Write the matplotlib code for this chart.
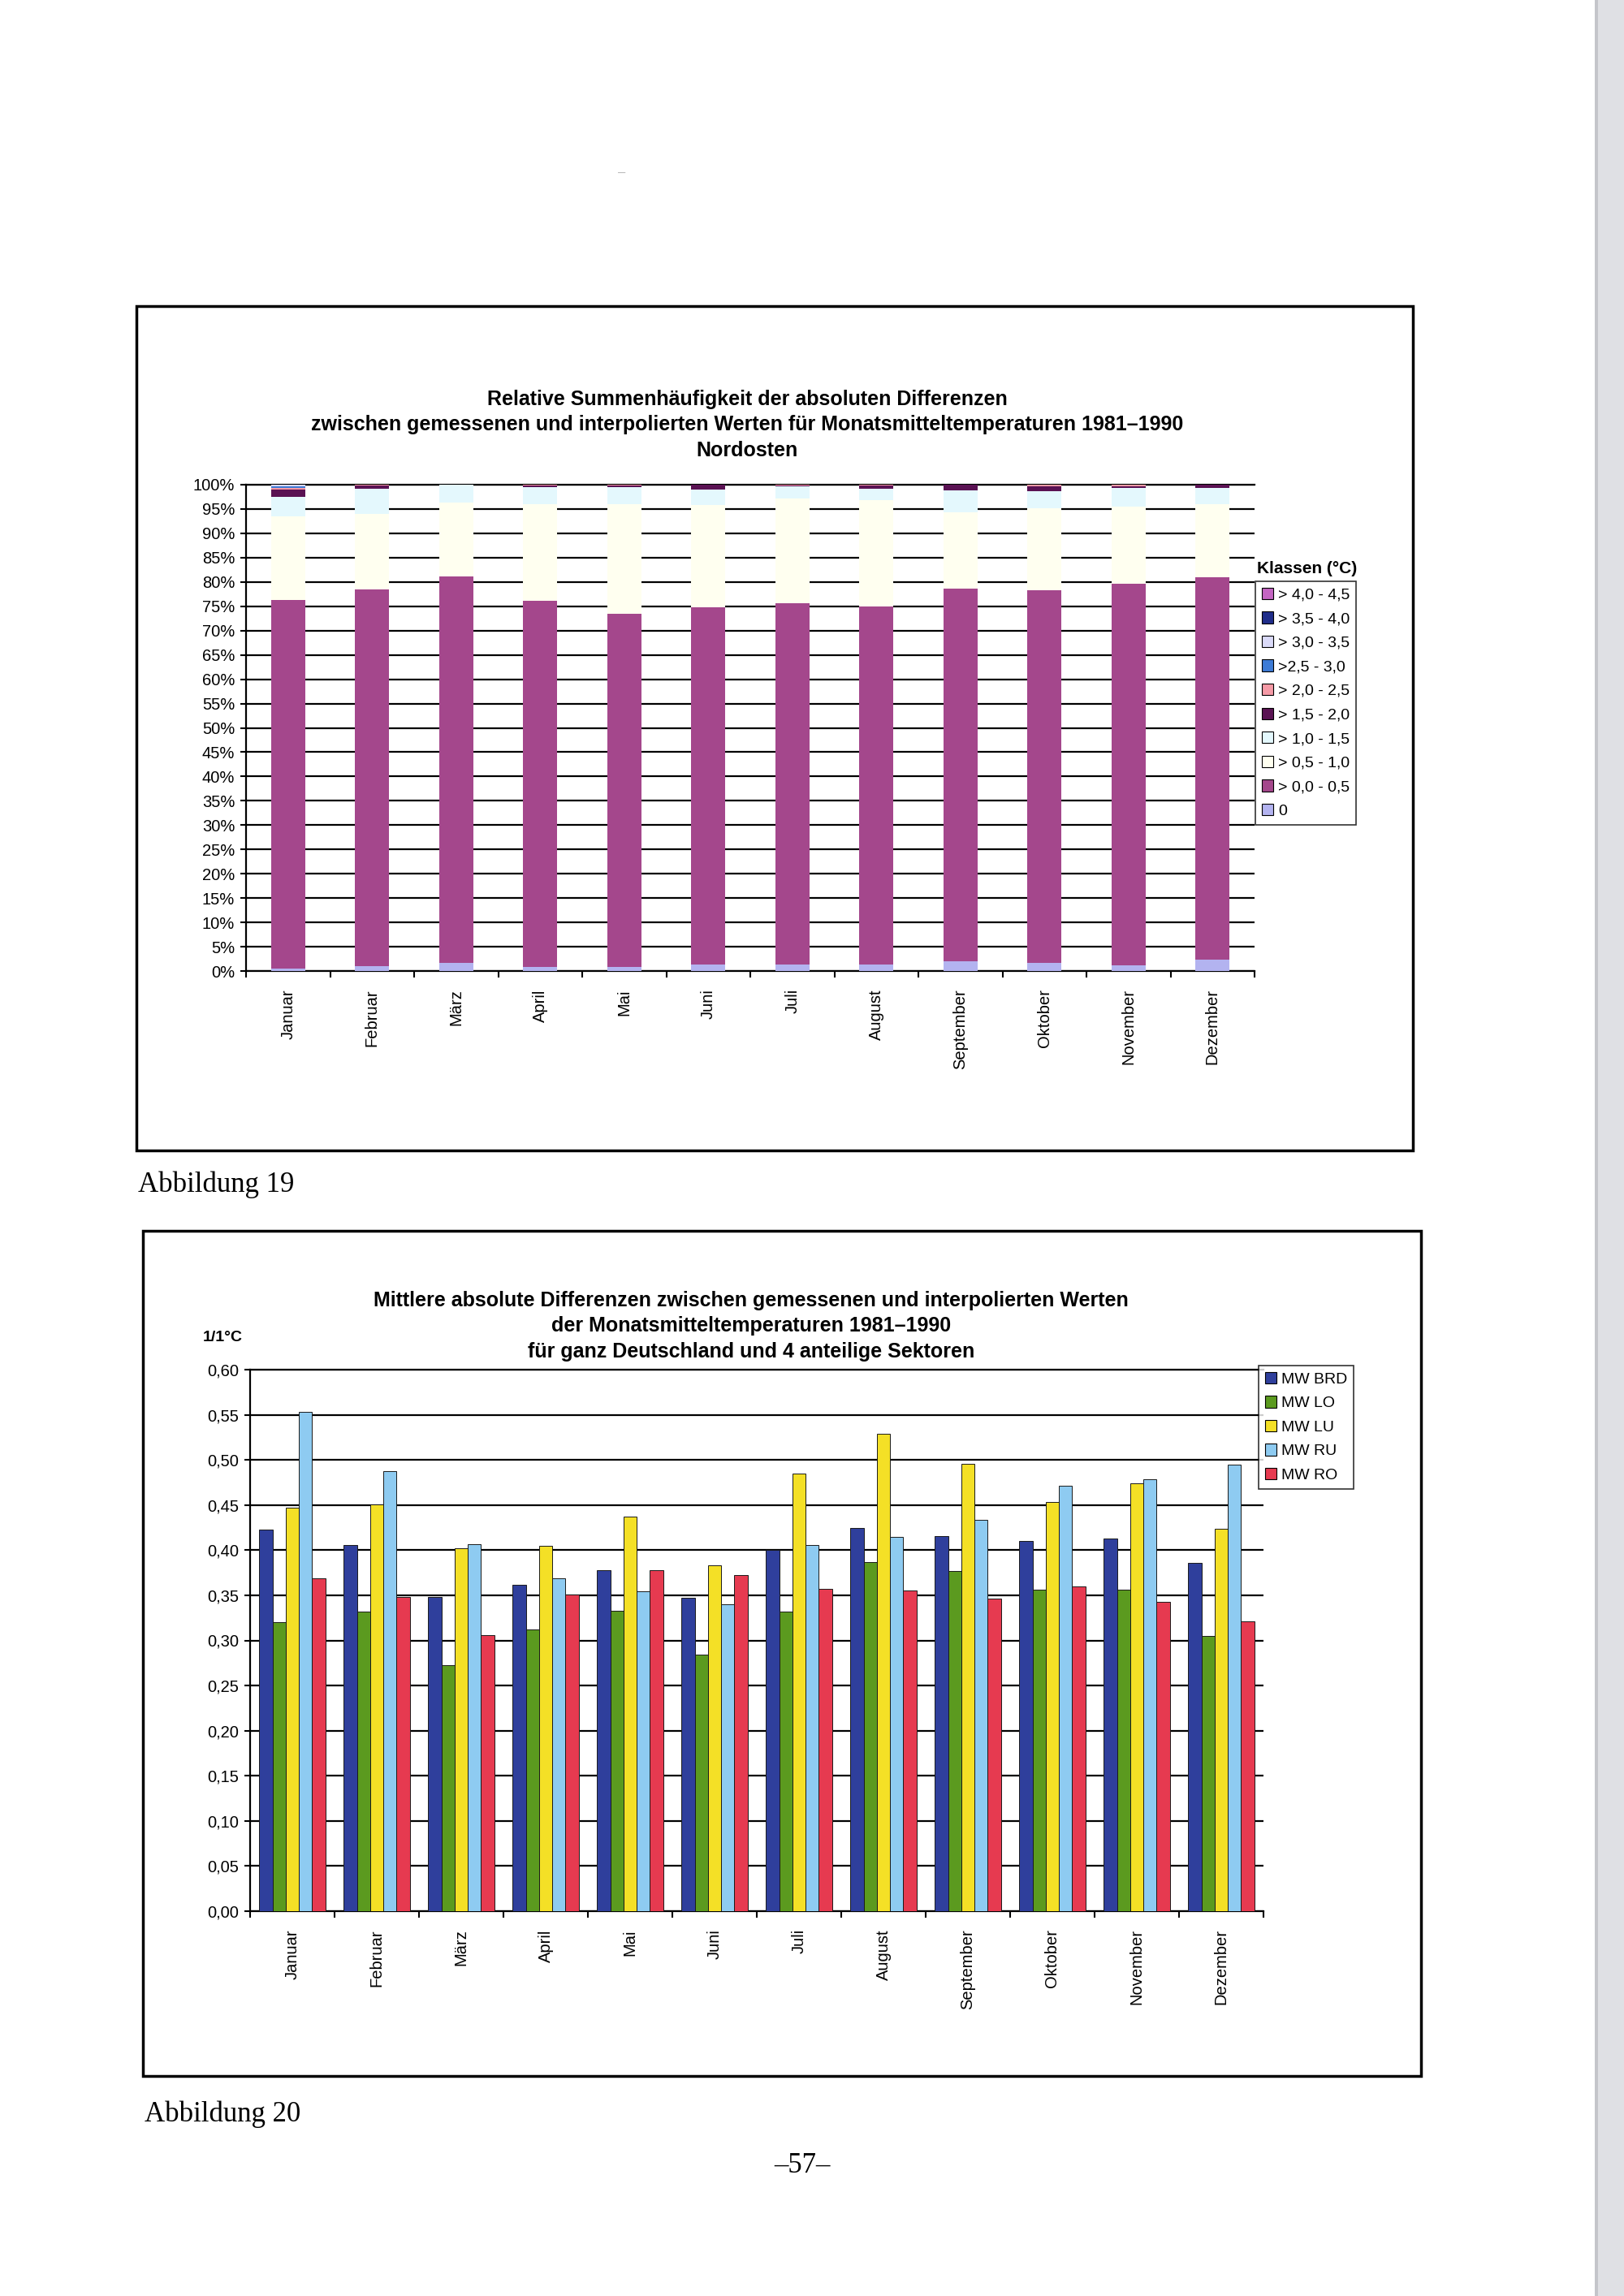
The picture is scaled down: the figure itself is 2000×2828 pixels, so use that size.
import matplotlib
matplotlib.use('Agg')
import numpy as np
import matplotlib.pyplot as plt
from matplotlib.patches import Rectangle, Patch

W, H = 2000, 2828
SANS = ['Liberation Sans', 'DejaVu Sans']
SERIF = ['Liberation Serif', 'DejaVu Serif']
plt.rcParams['font.family'] = SANS

monate = ['Januar', 'Februar', 'März', 'April', 'Mai', 'Juni', 'Juli',
          'August', 'September', 'Oktober', 'November', 'Dezember']

# Abbildung 19 - Anteile je Klasse in %, von unten nach oben gestapelt
klassen = ['0', '> 0,0 - 0,5', '> 0,5 - 1,0', '> 1,0 - 1,5', '> 1,5 - 2,0',
           '> 2,0 - 2,5', '>2,5 - 3,0', '> 3,0 - 3,5', '> 3,5 - 4,0', '> 4,0 - 4,5']
k_0       = [0.5, 1.0, 1.6, 0.8, 0.8, 1.3, 1.3, 1.4, 2.0, 1.6, 1.2, 2.3]
k_00_05   = [75.8, 77.5, 79.5, 75.4, 72.6, 73.5, 74.3, 73.5, 76.6, 76.7, 78.5, 78.7]
k_05_10   = [17.2, 15.5, 15.3, 19.8, 22.6, 21.0, 21.6, 21.9, 15.8, 16.8, 15.8, 15.0]
k_10_15   = [4.0, 5.1, 3.6, 3.5, 3.5, 3.2, 2.4, 2.4, 4.5, 3.6, 3.8, 3.4]
k_15_20   = [1.5, 0.7, 0.0, 0.4, 0.3, 1.0, 0.2, 0.6, 1.1, 1.0, 0.4, 0.6]
k_20_25   = [0.3, 0.2, 0.0, 0.1, 0.2, 0.0, 0.2, 0.2, 0.0, 0.3, 0.3, 0.0]
k_25_30   = [0.4, 0, 0, 0, 0, 0, 0, 0, 0, 0, 0, 0]
k_30_35   = [0.3, 0, 0, 0, 0, 0, 0, 0, 0, 0, 0, 0]
k_35_40   = [0, 0, 0, 0, 0, 0, 0, 0, 0, 0, 0, 0]
k_40_45   = [0, 0, 0, 0, 0, 0, 0, 0, 0, 0, 0, 0]
klassen_farben = ['#b3b3f0', '#a4478c', '#fffff0', '#e4f8fd', '#5a1253',
                  '#f59aa6', '#3d7bd6', '#dadaf8', '#1f2d8a', '#c465c2']

# Abbildung 20 - mittlere absolute Differenzen
serien = ['MW BRD', 'MW LO', 'MW LU', 'MW RU', 'MW RO']
mw_brd = [0.423, 0.406, 0.348, 0.362, 0.378, 0.347, 0.400, 0.425, 0.416, 0.410, 0.413, 0.386]
mw_lo  = [0.320, 0.332, 0.273, 0.312, 0.333, 0.284, 0.332, 0.387, 0.377, 0.356, 0.356, 0.305]
mw_lu  = [0.447, 0.451, 0.402, 0.405, 0.437, 0.383, 0.485, 0.529, 0.496, 0.453, 0.474, 0.424]
mw_ru  = [0.553, 0.488, 0.407, 0.369, 0.354, 0.340, 0.406, 0.415, 0.434, 0.471, 0.479, 0.495]
mw_ro  = [0.369, 0.348, 0.306, 0.351, 0.378, 0.372, 0.357, 0.355, 0.346, 0.360, 0.343, 0.321]
serien_farben = ['#2f3f9c', '#5b9a1f', '#f4e026', '#8ecbf1', '#e63a50']


def fx(x):
    return x / W


def fy(y):
    return 1 - y / H


def achsen(left, top, right, bottom):
    return fig.add_axes([fx(left), fy(bottom), (right - left) / W, (bottom - top) / H])


def stil(ax):
    ax.set_xlim(-0.5, 11.5)
    ax.set_axisbelow(True)
    ax.yaxis.grid(True, color='black', lw=1.6)
    ax.spines['right'].set_visible(False)
    for s in ['left', 'bottom', 'top']:
        ax.spines[s].set_linewidth(1.6)
    ax.set_xticks(np.arange(12))
    ax.set_xticklabels(monate, rotation=90, fontsize=14.5, va='top', ha='center')
    ax.set_xticks(np.arange(-0.5, 12, 1), minor=True)
    ax.tick_params(axis='x', which='major', length=0, pad=16)
    ax.tick_params(axis='x', which='minor', length=6, width=1.5, direction='out')
    ax.tick_params(axis='y', length=5, width=1.5, direction='out', labelsize=14.5, pad=5)


def legende(handles, labels, x, y):
    leg = fig.legend(handles, labels, loc='upper left', bbox_to_anchor=(fx(x), fy(y)),
                     fontsize=14, frameon=True, fancybox=False, borderaxespad=0,
                     handlelength=0.75, handleheight=0.75, handletextpad=0.3,
                     labelspacing=0.6, borderpad=0.4)
    leg.get_frame().set_edgecolor('black')
    leg.get_frame().set_linewidth(1.2)
    return leg


fig = plt.figure(figsize=(W / 100, H / 100), dpi=100)

# Scan-Rand
fig.patches.append(Rectangle((fx(1966), 0), 1 - fx(1966), 1, transform=fig.transFigure,
                             facecolor='#dfe0e4', edgecolor='none'))
fig.patches.append(Rectangle((fx(1964), 0), fx(4), 1, transform=fig.transFigure,
                             facecolor='#c4c5ca', edgecolor='none'))
fig.text(fx(766), fy(213), '–', fontsize=12, color='#bbbbbb', ha='center', va='center')

# Rahmen
for l, t, r, b in [(168, 377, 1740, 1417), (176, 1516, 1750, 2557)]:
    fig.patches.append(Rectangle((fx(l), fy(b)), (r - l) / W, (b - t) / H,
                                 transform=fig.transFigure, fill=False,
                                 edgecolor='black', lw=2.5))

# ---- Abbildung 19 ----
ax1 = achsen(303, 597, 1545, 1196)
x = np.arange(12)
werte = [k_0, k_00_05, k_05_10, k_10_15, k_15_20, k_20_25, k_25_30, k_30_35, k_35_40, k_40_45]
unten = np.zeros(12)
for v, c in zip(werte, klassen_farben):
    ax1.bar(x, v, 0.41, bottom=unten, color=c, edgecolor='none', zorder=3)
    unten += np.array(v)
ax1.set_ylim(0, 100)
ax1.set_yticks(np.arange(0, 101, 5))
ax1.set_yticklabels([f'{p}%' for p in range(0, 101, 5)])
stil(ax1)

titel1 = ['Relative Summenhäufigkeit der absoluten Differenzen',
          'zwischen gemessenen und interpolierten Werten für Monatsmitteltemperaturen 1981–1990',
          'Nordosten']
for t, y in zip(titel1, [492, 523, 555]):
    fig.text(fx(920), fy(y), t, ha='center', va='center', fontsize=18, fontweight='bold')

fig.text(fx(1610), fy(700), 'Klassen (°C)', ha='center', va='center', fontsize=15, fontweight='bold')
h1 = [Patch(facecolor=c, edgecolor='black', lw=0.8) for c in klassen_farben][::-1]
legende(h1, klassen[::-1], 1546, 716)

fig.text(fx(170), fy(1468), 'Abbildung 19', family=SERIF, fontsize=25, va='baseline')

# ---- Abbildung 20 ----
ax2 = achsen(308, 1687, 1556, 2354)
bw = 0.157
for i, (v, c) in enumerate(zip([mw_brd, mw_lo, mw_lu, mw_ru, mw_ro], serien_farben)):
    ax2.bar(x + (i - 2) * bw, v, bw, color=c, edgecolor='#1a1a1a', lw=0.7, zorder=3)
ax2.set_ylim(0, 0.6)
yt = np.arange(0, 0.601, 0.05)
ax2.set_yticks(yt)
ax2.set_yticklabels([f'{v:.2f}'.replace('.', ',') for v in yt])
stil(ax2)

titel2 = ['Mittlere absolute Differenzen zwischen gemessenen und interpolierten Werten',
          'der Monatsmitteltemperaturen 1981–1990',
          'für ganz Deutschland und 4 anteilige Sektoren']
for t, y in zip(titel2, [1602, 1633, 1665]):
    fig.text(fx(925), fy(y), t, ha='center', va='center', fontsize=18, fontweight='bold')
fig.text(fx(250), fy(1648), '1/1°C', ha='left', va='center', fontsize=14, fontweight='bold')

h2 = [Patch(facecolor=c, edgecolor='black', lw=0.8) for c in serien_farben]
legende(h2, serien, 1550, 1682)

fig.text(fx(178), fy(2613), 'Abbildung 20', family=SERIF, fontsize=25, va='baseline')
fig.text(fx(988), fy(2676), '–57–', family=SERIF, fontsize=25, ha='center', va='baseline')

fig.savefig('out.png', dpi=100, facecolor='white')
plt.close(fig)
